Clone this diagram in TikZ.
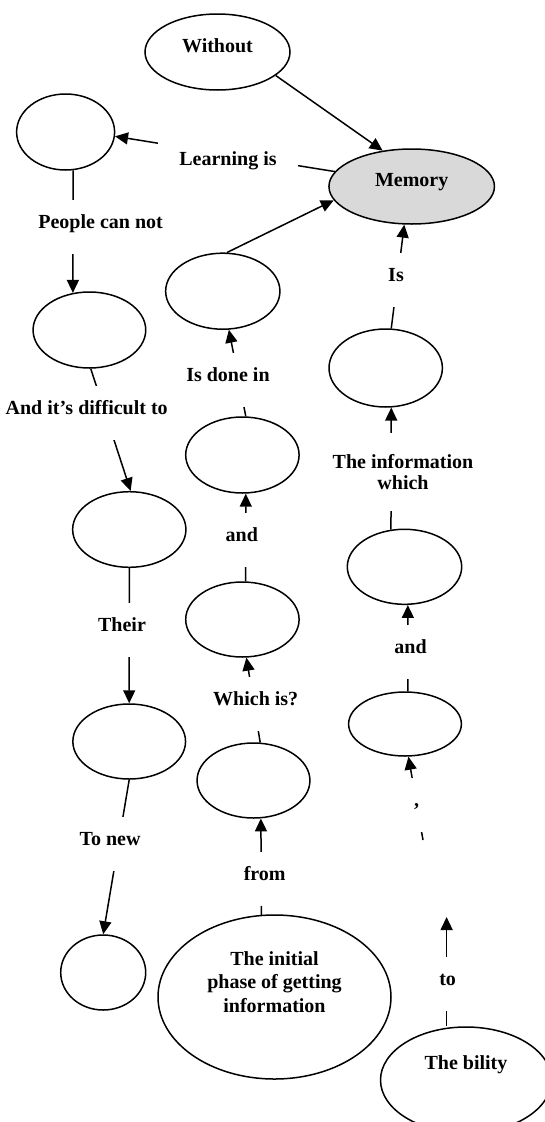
\documentclass[tikz,border=0pt]{standalone}
\usepackage{fontspec}
\setmainfont{Liberation Serif}
\usetikzlibrary{arrows.meta,shapes.geometric}

\begin{document}
\begin{tikzpicture}
      [x=1pt, y=-1pt, line width=1.5pt,
      font=\bfseries\fontsize{20}{23.5}\selectfont,
      concept/.style={draw, ellipse, inner sep=0pt},
      linkword/.style={fill=white, inner xsep=3pt, inner ysep=14.5pt, text height=14pt, text depth=11pt},
      arr/.style={-{Triangle[length=13pt,width=12pt]}}]
      \useasboundingbox (0,0) rectangle (544,1122);

      \node[concept, minimum width=145pt, minimum height=76pt, text height=13.5pt, text depth=12pt] (without) at (217.5,52) {Without};
      \node[concept, fill=gray!30, minimum width=165.5pt, minimum height=75pt, text height=13.5pt, text depth=13pt] (memory) at (411.7,186.5) {Memory};
      \node[concept, minimum width=98pt, minimum height=76pt] (left1) at (65.6,132) {};
      \node[concept, minimum width=112.7pt, minimum height=76pt] (left2) at (89.4,330) {};
      \node[concept, minimum width=113.3pt, minimum height=75.6pt] (left3) at (129.3,529.5) {};
      \node[concept, minimum width=112.7pt, minimum height=75pt] (left4) at (129.2,741.5) {};
      \node[concept, minimum width=85pt, minimum height=75pt] (left5) at (103.2,972.5) {};
      \node[concept, minimum width=114.3pt, minimum height=76pt] (mid1) at (222.8,291.2) {};
      \node[concept, minimum width=113.4pt, minimum height=76pt] (mid2) at (242.4,455) {};
      \node[concept, minimum width=113.4pt, minimum height=75pt] (mid3) at (242.4,619.5) {};
      \node[concept, minimum width=112.9pt, minimum height=75pt] (mid4) at (253.5,780.5) {};
      \node[concept, minimum width=113.4pt, minimum height=78pt] (right1) at (385.7,368) {};
      \node[concept, minimum width=114.4pt, minimum height=75pt] (right2) at (404.5,566.8) {};
      \node[concept, minimum width=112.8pt, minimum height=64pt] (right3) at (405,724) {};
      \node[concept, align=center, minimum width=233pt, minimum height=164pt, text depth=30pt] (phase) at (274.5,997) {The initial\\phase of getting\\information};
      \node[concept, minimum width=171pt, minimum height=106pt, text height=13.5pt, text depth=34pt] (bility) at (466,1080) {The bility};
      \coordinate (hidden) at (446.6,917);
      \coordinate (tickend) at (423,840);

      \draw[arr] (without.-22) -- (memory.129);
      \draw[arr] (memory.169) -- (left1.-5);
      \draw[arr] (left1.-79) -- (left2.114);
      \draw[arr] (mid1.84) -- (memory.190);
      \draw[arr] (right1.82) -- (memory.259);
      \draw[arr] (left2.-88) -- (left3.88);
      \draw[arr] (mid2.85) -- (mid1.-81);
      \draw[arr] (mid3.85) -- (mid2.-85);
      \draw[arr] (right2.110) -- (right1.-82);
      \draw[arr] (left3.south) -- (left4.north);
      \draw[arr] (left4.south) -- (left5.north);
      \draw[arr] (mid4.80) -- (mid3.-84);
      \draw[arr] (phase.99) -- (mid4.-79);
      \draw[arr] (right3.85) -- (right2.-85);
      \draw[arr] (tickend) -- (right3.-84);
      \draw[arr] (hidden |- bility.north) -- (hidden);

      \node[linkword, inner xsep=21pt] (learning) at (228,164) {Learning is};
      \node[linkword] (cannot) at (100.6,227) {People can not};
      \node[linkword] (is) at (396,280) {Is};
      \node[linkword] (difficult) at (86.7,412.5) {And it’s difficult to};
      \node[linkword] (donein) at (228,380) {Is done in};
      \node[linkword] (and1) at (241.8,540) {and};
      \node[fill=white, align=center, inner ysep=21.6pt, font=\bfseries\fontsize{20}{21}\selectfont] (infowhich) at (403,472) {The information\\which};
      \node[linkword] (their) at (122,630) {Their};
      \node[linkword] (whichis) at (255.7,704) {Which is?};
      \node[linkword] (and2) at (410.5,652) {and};
      \node[linkword, inner xsep=6pt] (comma) at (416.7,805) {,};
      \node[linkword] (tonew) at (110,844) {To new};
      \node[linkword] (from) at (264.7,878.5) {from};
      \node[linkword] (to) at (447.6,983.5) {to};
\end{tikzpicture}
\end{document}
